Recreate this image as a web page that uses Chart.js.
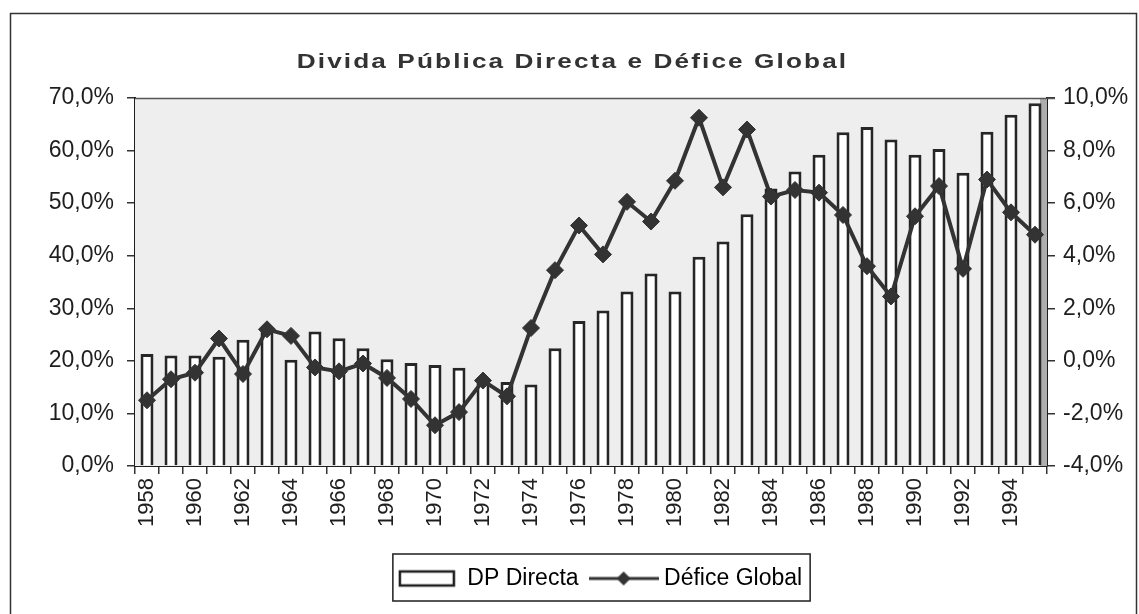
<!DOCTYPE html>
<html>
<head>
<meta charset="utf-8">
<title>Divida Pública Directa e Défice Global</title>
<script src="https://cdn.jsdelivr.net/npm/chart.js@4"></script>
<style>
  html, body { margin: 0; padding: 0; background: #fff; }
</style>
</head>
<body>
<canvas id="dividaChart" width="1139" height="614"></canvas>
<script>
// data (percent)
const years = [
  1958, 1959, 1960, 1961, 1962, 1963, 1964, 1965, 1966, 1967,
  1968, 1969, 1970, 1971, 1972, 1973, 1974, 1975, 1976, 1977,
  1978, 1979, 1980, 1981, 1982, 1983, 1984, 1985, 1986, 1987,
  1988, 1989, 1990, 1991, 1992, 1993, 1994, 1995,
];
const dpDirecta = [
  21.3, 21.0, 21.0, 20.8, 24.0, 26.0, 20.2, 25.6, 24.3, 22.4,
  20.3, 19.6, 19.2, 18.7, 16.2, 16.0, 15.5, 22.4, 27.6, 29.6,
  33.2, 36.6, 33.2, 39.8, 42.7, 47.9, 52.8, 56.0, 59.2, 63.5,
  64.5, 62.1, 59.2, 60.3, 55.8, 63.6, 66.8, 69.0,
];
const deficeGlobal = [
  -1.5, -0.7, -0.45, 0.85, -0.5, 1.2, 0.95, -0.25, -0.4, -0.1,
  -0.65, -1.45, -2.45, -1.95, -0.75, -1.35, 1.25, 3.45, 5.15, 4.05,
  6.05, 5.3, 6.85, 9.25, 6.6, 8.8, 6.25, 6.5, 6.4, 5.55,
  3.6, 2.45, 5.5, 6.65, 3.5, 6.9, 5.65, 4.8,
];
const seriesNames = ['DP Directa', 'Défice Global'];
const chartTitle = 'Divida Pública Directa e Défice Global';

const FONT = '"Liberation Sans", Arial, sans-serif';
const INK = '#1e1e1e';
const DARK = '#333';

function pct(value) {
  return value.toFixed(1).replace('.', ',') + '%';
}

// little legend pictures: open bar and line with a diamond
function legendIcon(kind) {
  const c = document.createElement('canvas');
  const g = c.getContext('2d');
  if (kind === 'bar') {
    c.width = 58;
    c.height = 20;
    g.fillStyle = '#fff';
    g.strokeStyle = INK;
    g.lineWidth = 2.5;
    g.fillRect(2, 3, 54, 14);
    g.strokeRect(2, 3, 54, 14);
  } else {
    c.width = 70;
    c.height = 20;
    g.strokeStyle = DARK;
    g.fillStyle = DARK;
    g.lineWidth = 3;
    g.beginPath();
    g.moveTo(0, 10);
    g.lineTo(70, 10);
    g.stroke();
    g.beginPath();
    g.moveTo(35, 3);
    g.lineTo(42, 10);
    g.lineTo(35, 17);
    g.lineTo(28, 10);
    g.closePath();
    g.fill();
  }
  return c;
}
const icons = [legendIcon('bar'), legendIcon('line')];

const decorations = {
  id: 'decorations',
  afterUpdate(chart) {
    // the printed legend sits a little right of the page centre
    const legend = chart.legend;
    const boxes = legend.legendHitBoxes;
    if (!boxes || !boxes.length) return;
    const first = boxes[0];
    const last = boxes[boxes.length - 1];
    const centre = (first.left + last.left + last.width) / 2;
    const dx = 600 - centre;
    legend.left += dx;
    legend.right += dx;
    boxes.forEach((b) => (b.left += dx));
  },
  beforeDatasetsDraw(chart) {
    const { ctx, chartArea: a } = chart;
    ctx.save();
    ctx.fillStyle = '#eeeeee';
    ctx.fillRect(a.left, a.top, a.right - a.left, a.bottom - a.top);
    // grey hatched band at the right edge of the plot
    ctx.fillStyle = '#adadad';
    ctx.fillRect(a.right - 7, a.top, 7, a.bottom - a.top);
    ctx.strokeStyle = '#555';
    ctx.lineWidth = 1.5;
    ctx.beginPath();
    ctx.moveTo(a.left, a.top + 0.5);
    ctx.lineTo(a.right + 8, a.top + 0.5);
    ctx.stroke();
    ctx.restore();
  },
  afterDraw(chart) {
    const { ctx, width } = chart;
    ctx.save();
    // outer frame
    ctx.strokeStyle = DARK;
    ctx.lineWidth = 1.5;
    ctx.strokeRect(10.5, 13.5, width - 13, 700);
    // title, wide and heavy like the print
    ctx.fillStyle = DARK;
    ctx.font = 'bold 20px ' + FONT;
    ctx.letterSpacing = '1.6px';
    ctx.textAlign = 'center';
    ctx.textBaseline = 'middle';
    ctx.translate(width / 2 + 3, 62);
    ctx.scale(1.31, 1);
    ctx.fillText(chartTitle, 0, 0);
    ctx.restore();
    // box round the legend
    const boxes = chart.legend.legendHitBoxes;
    if (boxes && boxes.length) {
      const first = boxes[0];
      const last = boxes[boxes.length - 1];
      const left = first.left - 5;
      const right = last.left + last.width + 8;
      const top = first.top - 13;
      const bottom = first.top + first.height + 11;
      ctx.save();
      ctx.strokeStyle = INK;
      ctx.lineWidth = 1.5;
      ctx.strokeRect(left, top, right - left, bottom - top);
      ctx.restore();
    }
  },
};

const ctx = document.getElementById('dividaChart').getContext('2d');

const config = {
  type: 'bar',
  data: {
    labels: years,
    datasets: [
      {
        type: 'line',
        label: seriesNames[1],
        data: deficeGlobal,
        yAxisID: 'y1',
        borderColor: DARK,
        borderWidth: 4,
        tension: 0,
        pointStyle: 'rectRot',
        pointRadius: 8.5,
        pointBorderWidth: 1,
        pointBackgroundColor: DARK,
        pointBorderColor: DARK,
        order: 0,
      },
      {
        type: 'bar',
        label: seriesNames[0],
        data: dpDirecta,
        yAxisID: 'y',
        backgroundColor: '#fff',
        borderColor: '#262626',
        borderWidth: 3,
        barPercentage: 0.54,
        categoryPercentage: 1,
        order: 1,
      },
    ],
  },
  options: {
    responsive: false,
    animation: false,
    layout: {
      padding: { top: 98, left: 0, right: 0, bottom: 14 },
    },
    scales: {
      x: {
        offset: true,
        grid: {
          offset: true,
          drawOnChartArea: false,
          drawTicks: true,
          tickLength: 8,
          color: DARK,
          lineWidth: 1.5,
        },
        border: { color: INK, width: 2 },
        ticks: {
          autoSkip: false,
          minRotation: 90,
          maxRotation: 90,
          padding: 4,
          color: INK,
          font: { family: FONT, size: 22 },
          callback: function (value, index) {
            // only the even years get a label
            return index % 2 === 0 ? String(years[index]) : '';
          },
        },
        afterFit: (scale) => {
          scale.height = 85;
        },
      },
      y: {
        position: 'left',
        min: 0,
        max: 70,
        grid: {
          drawOnChartArea: false,
          tickLength: 8,
          color: DARK,
          lineWidth: 1.5,
        },
        border: { color: INK, width: 2 },
        ticks: {
          stepSize: 10,
          padding: 13,
          color: INK,
          font: { family: FONT, size: 23 },
          callback: (value) => pct(value),
        },
        afterFit: (scale) => {
          scale.width = 135;
        },
      },
      y1: {
        position: 'right',
        min: -4,
        max: 10,
        grid: {
          drawOnChartArea: false,
          tickLength: 8,
          color: DARK,
          lineWidth: 1.5,
        },
        border: { color: INK, width: 2 },
        ticks: {
          stepSize: 2,
          padding: 8,
          color: INK,
          font: { family: FONT, size: 23 },
          callback: (value) => pct(value),
        },
        afterFit: (scale) => {
          scale.width = 92;
        },
      },
    },
    plugins: {
      title: { display: false },
      tooltip: { enabled: false },
      legend: {
        display: true,
        position: 'bottom',
        labels: {
          usePointStyle: true,
          pointStyleWidth: 58,
          padding: 16,
          color: INK,
          font: { family: FONT, size: 23 },
          generateLabels: () =>
            seriesNames.map((name, i) => ({
              text: name,
              pointStyle: icons[i],
              fillStyle: '#fff',
              strokeStyle: INK,
              lineWidth: 0,
              hidden: false,
              datasetIndex: i === 0 ? 1 : 0,
            })),
        },
      },
    },
  },
  plugins: [decorations],
};

const dividaChart = new Chart(ctx, config);
</script>
</body>
</html>
